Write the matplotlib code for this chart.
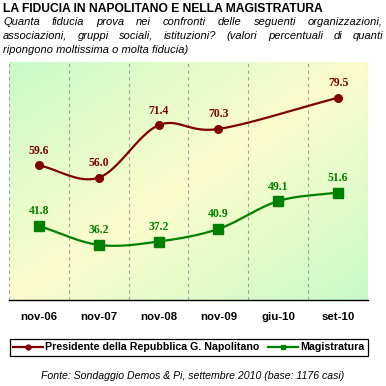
import numpy as np
import matplotlib.pyplot as plt
from matplotlib.lines import Line2D

# data
periods = ["nov-06", "nov-07", "nov-08", "nov-09", "giu-10", "set-10"]
presidente = [59.6, 56.0, 71.4, 70.3, None, 79.5]
magistratura = [41.8, 36.2, 37.2, 40.9, 49.1, 51.6]
series_names = ["Presidente della Repubblica G. Napolitano", "Magistratura"]

title = "LA FIDUCIA IN NAPOLITANO E NELLA MAGISTRATURA"
subtitle = ["Quanta fiducia prova nei confronti delle seguenti organizzazioni,",
            "associazioni, gruppi sociali, istituzioni? (valori percentuali di quanti",
            "ripongono moltissima o molta fiducia)"]
source = "Fonte: Sondaggio Demos & Pi, settembre 2010 (base: 1176 casi)"

red = "#800000"
green = "#008000"
W = H = 386


def smooth(xs, ys, n=30):
    # catmull-rom style smoothing, similar to excel smoothed lines
    xs = np.asarray(xs, float)
    ys = np.asarray(ys, float)
    px = np.concatenate([[2 * xs[0] - xs[1]], xs, [2 * xs[-1] - xs[-2]]])
    py = np.concatenate([[2 * ys[0] - ys[1]], ys, [2 * ys[-1] - ys[-2]]])
    ox, oy = [], []
    t = np.linspace(0, 1, n)
    for i in range(1, len(px) - 2):
        p0, p1, p2, p3 = [np.array([px[j], py[j]]) for j in range(i - 1, i + 3)]
        c1 = p1 + (p2 - p0) / 6
        c2 = p2 - (p3 - p1) / 6
        pts = ((1 - t) ** 3)[:, None] * p1 + (3 * (1 - t) ** 2 * t)[:, None] * c1 \
            + (3 * (1 - t) * t ** 2)[:, None] * c2 + (t ** 3)[:, None] * p2
        ox.extend(pts[:, 0])
        oy.extend(pts[:, 1])
    return np.array(ox), np.array(oy)


def justified(fig, line, x0, x1, y, **kw):
    # place words one by one so the line fills x0..x1 (pixels)
    r = fig.canvas.get_renderer()
    words = line.split()
    texts = [fig.text(0, 1 - y / H, w_, ha='left', va='top', **kw) for w_ in words]
    widths = [t.get_window_extent(r).width for t in texts]
    gap = (x1 - x0 - sum(widths)) / (len(words) - 1)
    x = x0
    for t, w_ in zip(texts, widths):
        t.set_x(x / W)
        x += w_ + gap


fig = plt.figure(figsize=(W / 100, H / 100), dpi=100)
plt.rcParams['font.family'] = ['Liberation Sans', 'DejaVu Sans']

left, right, top, bottom = 9, 368, 62, 300
ax = fig.add_axes([left / W, 1 - bottom / H, (right - left) / W, (bottom - top) / H])
ax.set_xlim(-0.5, len(periods) - 0.5)
ax.set_ylim(20, 90)

# background gradient: green corners, yellow diagonal band
gx, gy = np.meshgrid(np.linspace(0, 1, 200), np.linspace(0, 1, 200))
u = (gx + gy) / 2
f = 1 - np.abs(2 * u - 1)
c_green = np.array([200, 250, 200]) / 255
c_yellow = np.array([252, 252, 204]) / 255
img = c_green[None, None, :] * (1 - f[..., None]) + c_yellow[None, None, :] * f[..., None]
ax.imshow(img, extent=[-0.5, len(periods) - 0.5, 20, 90], aspect='auto', zorder=0, origin='upper')

for xg in np.arange(-0.5, len(periods), 1.0):
    ax.axvline(xg, color='#a0a0a0', lw=0.8, ls=(0, (3, 3)), zorder=1)

for s in ['top', 'left', 'right']:
    ax.spines[s].set_visible(False)
ax.spines['bottom'].set_color('black')
ax.spines['bottom'].set_linewidth(1)
ax.set_yticks([])
ax.set_xticks(range(len(periods)))
ax.set_xticklabels(periods, fontweight='bold', fontsize=8.2)
ax.tick_params(axis='x', length=0, pad=9)

for vals, col, mk, ms in [(presidente, red, 'o', 5.5), (magistratura, green, 's', 6.5)]:
    xs = [i for i, v in enumerate(vals) if v is not None]
    ys = [v for v in vals if v is not None]
    sx, sy = smooth(xs, ys)
    ax.plot(sx, sy, color=col, lw=1.6, zorder=3)
    ax.plot(xs, ys, ls='none', marker=mk, ms=ms, color=col, zorder=4)
    for x, y in zip(xs, ys):
        ax.text(x, y + 2.5, f"{y:.1f}", ha='center', va='bottom', color=col,
                fontsize=8.5, fontweight='bold', family='Liberation Serif', zorder=5)

# titles
fig.text(3 / W, 1 - 3 / H, title, ha='left', va='top', fontsize=8.7, fontweight='bold')
sub_kw = dict(fontsize=8.0, style='italic')
justified(fig, subtitle[0], 3, 383, 17, **sub_kw)
justified(fig, subtitle[1], 3, 383, 31, **sub_kw)
fig.text(3 / W, 1 - 45 / H, subtitle[2], ha='left', va='top', **sub_kw)

handles = [Line2D([], [], color=red, lw=1.6, marker='o', ms=3.5),
           Line2D([], [], color=green, lw=1.6, marker='s', ms=3.5)]
leg = fig.legend(handles, series_names, loc='center', ncol=2,
                 bbox_to_anchor=((10 + 368) / 2 / W, 1 - 347.5 / H),
                 frameon=True, fancybox=False, edgecolor='black', framealpha=1,
                 prop={'weight': 'bold', 'size': 7.7}, handlelength=2.8,
                 handletextpad=0.2, columnspacing=0.8, borderpad=0.3)
leg.get_frame().set_linewidth(0.9)

fig.text(193 / W, 1 - 376 / H, source, ha='center', va='center', fontsize=7.6, style='italic')

fig.savefig("out.png", dpi=100)
